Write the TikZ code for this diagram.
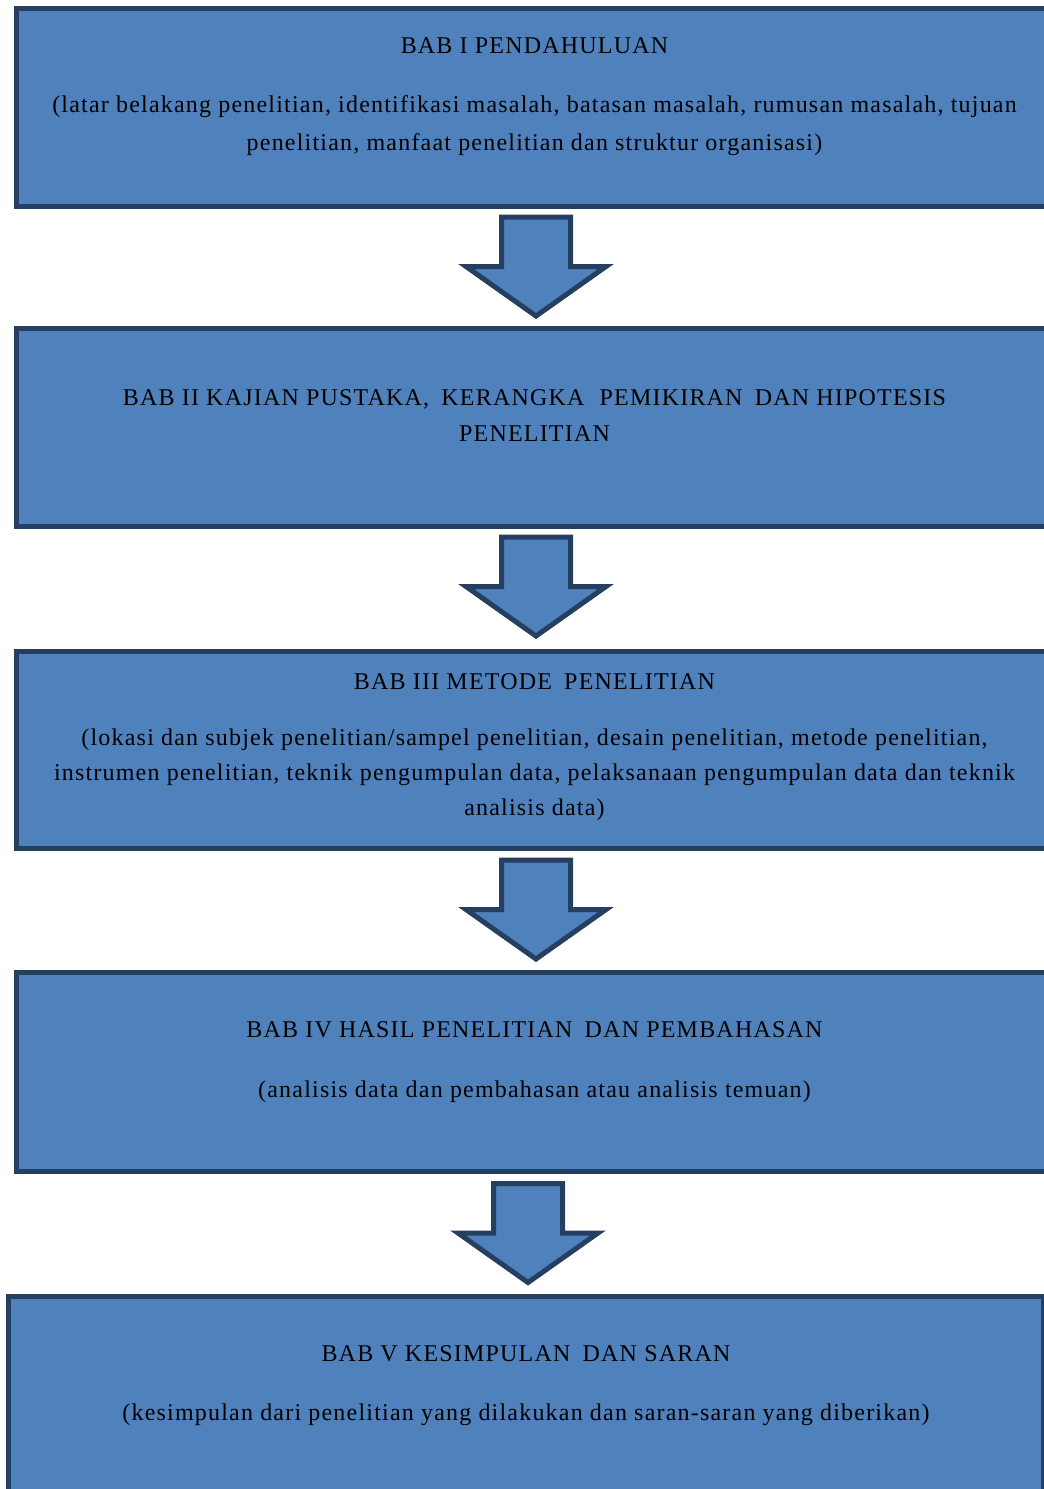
\documentclass[tikz,border=0pt]{standalone}
\usepackage{fontspec}
\setmainfont{Liberation Serif}[LetterSpace=5]
\definecolor{babfill}{HTML}{4F81BD}
\definecolor{babline}{HTML}{243F60}
\tikzset{
    babbox/.style={draw=babline,fill=babfill,line width=5pt,rectangle,inner sep=0pt},
    babtext/.style={align=center,inner sep=0pt,font=\fontsize{24}{37}\selectfont},
    panah/.style={draw=babline,fill=babfill,line width=5pt,line join=miter},
}
\begin{document}
\begin{tikzpicture}[x=1pt,y=-1pt]
    \useasboundingbox (0,0) rectangle (1044,1489);
    % boxes (right side runs off the page)
    \node[babbox,minimum width=1037pt,minimum height=198pt] (bab1) at (534.5,107.5) {};
    \node[babbox,minimum width=1037pt,minimum height=198pt] (bab2) at (534.5,427.5) {};
    \node[babbox,minimum width=1037pt,minimum height=197.5pt] (bab3) at (534.5,749.75) {};
    \node[babbox,minimum width=1037pt,minimum height=198.5pt] (bab4) at (534.5,1071.75) {};
    \node[babbox,minimum width=1035pt,minimum height=198pt] (bab5) at (526,1395.5) {};
    % block arrows between the boxes
    \foreach \cx/\ty in {536/217,536/537,536/860,528/1183.5}
        \draw[panah] ({\cx-34.5},\ty) -- ({\cx+34.5},\ty) -- ({\cx+34.5},\ty+49.5)
            -- ({\cx+70},\ty+49.5) -- (\cx,\ty+99) -- ({\cx-70},\ty+49.5)
            -- ({\cx-34.5},\ty+49.5) -- cycle;
    % texts
    \node[babtext] (judul1) at (534.5,46) {BAB I PENDAHULUAN};
    \node[babtext,font=\fontsize{24}{38}\selectfont] (isi1) at (534.5,125.5) {(latar belakang penelitian, identifikasi masalah, batasan masalah, rumusan masalah, tujuan\\
        penelitian, manfaat penelitian dan struktur organisasi)};
    \node[babtext,font=\fontsize{24}{36}\selectfont] (judul2) at (534.5,416) {BAB II KAJIAN PUSTAKA,\hspace{5pt} KERANGKA\hspace{8pt} PEMIKIRAN\hspace{5pt} DAN HIPOTESIS\\ PENELITIAN};
    \node[babtext] (judul3) at (534.5,682) {BAB III METODE\hspace{5pt} PENELITIAN};
    \node[babtext,font=\fontsize{24}{35}\selectfont] (isi3) at (534.5,774.5) {(lokasi dan subjek penelitian/sampel penelitian, desain penelitian, metode penelitian,\\
        instrumen penelitian, teknik pengumpulan data, pelaksanaan pengumpulan data dan teknik\\ analisis data)};
    \node[babtext] (judul4) at (534.5,1030) {BAB IV HASIL PENELITIAN\hspace{5pt} DAN PEMBAHASAN};
    \node[babtext] (isi4) at (534.5,1091.5) {(analisis data dan pembahasan atau analisis temuan)};
    \node[babtext] (judul5) at (526,1354) {BAB V KESIMPULAN\hspace{5pt} DAN SARAN};
    \node[babtext] (isi5) at (526,1415) {(kesimpulan dari penelitian yang dilakukan dan saran-saran yang diberikan)};
\end{tikzpicture}
\end{document}
